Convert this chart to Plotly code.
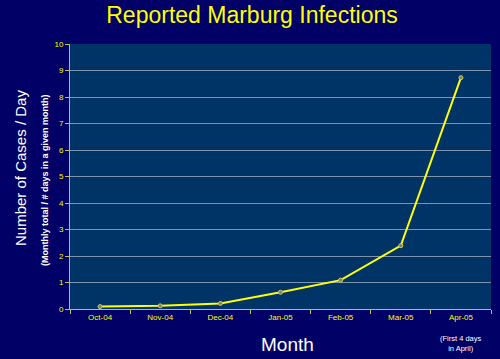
import plotly.graph_objects as go

months = ["Oct-04", "Nov-04", "Dec-04", "Jan-05", "Feb-05", "Mar-05", "Apr-05"]
cases_per_day = [0.09, 0.12, 0.21, 0.63, 1.09, 2.39, 8.73]
y_ticks = list(range(0, 11))

W, H = 500, 359
ML, MR, MT, MB = 70, 9, 44, 50
plot_w = W - ML - MR
plot_h = H - MT - MB


def px_x(pix):
    return (pix - ML) / plot_w


def px_y(pix):
    return (H - MB - pix) / plot_h


fig = go.Figure()
fig.add_trace(go.Scatter(
    x=months, y=cases_per_day, mode="lines+markers",
    line=dict(color="#ffff00", width=2),
    marker=dict(size=4, color="#808060", line=dict(color="#d0d060", width=1)),
    showlegend=False,
))

fig.update_layout(
    width=W, height=H,
    paper_bgcolor="#000066",
    plot_bgcolor="#003366",
    margin=dict(l=ML, r=MR, t=MT, b=MB),
    font=dict(family="Liberation Sans, Arial, sans-serif"),
    title=dict(text="Reported Marburg Infections", x=252 / W,
               xanchor="center", y=1 - 15 / H, yanchor="middle",
               font=dict(size=23, color="#ffff00")),
    xaxis=dict(
        type="category", range=[-0.5, 6.5],
        tickson="boundaries", ticks="outside", ticklen=4, tickcolor="#c0c050",
        showgrid=False, showline=True, linecolor="#c0c050", linewidth=1,
        tickfont=dict(size=8, color="#ffff00"),
        zeroline=False,
    ),
    yaxis=dict(
        range=[0, 10], tickvals=y_ticks, ticks="outside", ticklen=4,
        tickcolor="#c0c050", showline=True, linecolor="#c0c050", linewidth=1,
        showgrid=True, gridcolor="#7f93ae", gridwidth=1,
        tickfont=dict(size=8, color="#ffff00"),
        zeroline=False,
    ),
)

fig.add_annotation(text="Month", xref="paper", x=px_x(287), yref="paper", y=px_y(344),
                   showarrow=False, font=dict(size=19, color="#ffffff"),
                   xanchor="center", yanchor="middle")
fig.add_annotation(text="(First 4 days<br>in April)", xref="x", x="Apr-05", yref="paper", y=px_y(343),
                   showarrow=False, font=dict(size=7.5, color="#ffffff"),
                   xanchor="center", yanchor="middle")
fig.add_annotation(text="Number of Cases / Day", xref="paper", x=px_x(20), yref="paper", y=px_y(168),
                   textangle=-90, showarrow=False, font=dict(size=15, color="#ffffff"),
                   xanchor="center", yanchor="middle")
fig.add_annotation(text="<b>(Monthly total / # days in a given month)</b>", xref="paper", x=px_x(45),
                   yref="paper", y=px_y(180),
                   textangle=-90, showarrow=False, font=dict(size=9, color="#ffffff"),
                   xanchor="center", yanchor="middle")

fig.write_html("out.html", config={"displayModeBar": False},
               post_script="document.body.style.margin='0';")
